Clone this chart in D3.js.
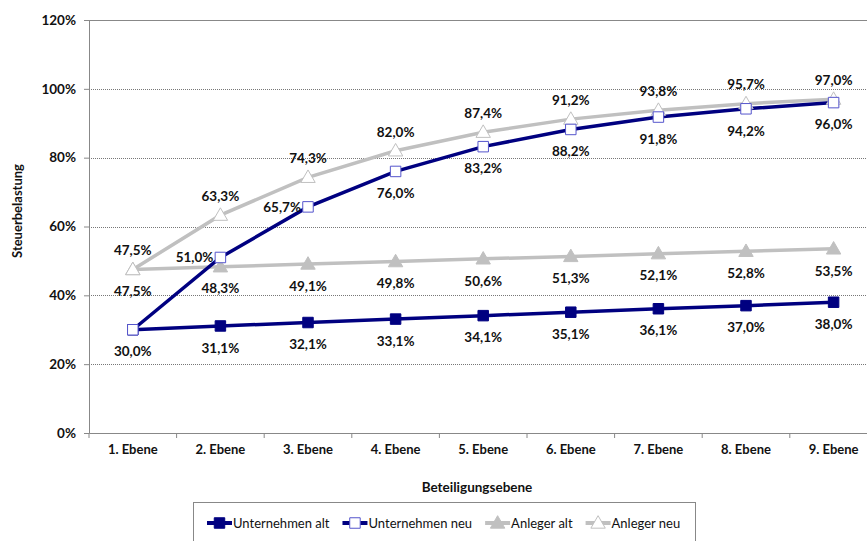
<!doctype html>
<html lang="de">
<head>
  <meta charset="utf-8">
  <title>Steuerbelastung</title>
  <script src="https://d3js.org/d3.v7.min.js"></script>
  <style>
    html, body { margin: 0; padding: 0; background: #fff; }
    svg { display: block; font-family: Lato, "Open Sans", sans-serif; }
    .grid line { stroke: #777; stroke-dasharray: 1,1; }
    .lbl { font-size: 13.5px; font-weight: bold; fill: #111; }
  </style>
</head>
<body>
  <div id="chart"></div>
  <script>
    const levels = ["1. Ebene","2. Ebene","3. Ebene","4. Ebene","5. Ebene","6. Ebene","7. Ebene","8. Ebene","9. Ebene"];
    const unternehmenAlt = [30.0, 31.1, 32.1, 33.1, 34.1, 35.1, 36.1, 37.0, 38.0];
    const unternehmenNeu = [30.0, 51.0, 65.7, 76.0, 83.2, 88.2, 91.8, 94.2, 96.0];
    const anlegerAlt = [47.5, 48.3, 49.1, 49.8, 50.6, 51.3, 52.1, 52.8, 53.5];
    const anlegerNeu = [47.5, 63.3, 74.3, 82.0, 87.4, 91.2, 93.8, 95.7, 97.0];
    const yTicks = [0, 20, 40, 60, 80, 100, 120];

    const series = [
      { name: "Unternehmen alt", values: unternehmenAlt, color: "#000080", shape: "square", fill: "#000080", stroke: "#000080" },
      { name: "Unternehmen neu", values: unternehmenNeu, color: "#000080", shape: "square", fill: "#fff", stroke: "#5555cc" },
      { name: "Anleger alt", values: anlegerAlt, color: "#c0c0c0", shape: "triangle", fill: "#c0c0c0", stroke: "#c0c0c0" },
      { name: "Anleger neu", values: anlegerNeu, color: "#c0c0c0", shape: "triangle", fill: "#fff", stroke: "#c0c0c0" }
    ];

    const width = 867, height = 541;
    const plotL = 89, plotT = 20, plotB = 433, step = 87.6;

    const svg = d3.select('#chart').append('svg')
      .attr('width', width).attr('height', height);

    const x = d3.scaleBand().domain(levels).range([plotL, plotL + step * levels.length]).padding(0);
    const y = d3.scaleLinear().domain([0, 120]).range([plotB, plotT]);
    const cx = d => x(d) + x.bandwidth() / 2;

    // gridlines
    svg.append('g').attr('class', 'grid')
      .selectAll('line').data(yTicks.filter(t => t > 0 && t < 120)).join('line')
      .attr('x1', plotL).attr('x2', width)
      .attr('y1', d => Math.round(y(d)) + 0.5).attr('y2', d => Math.round(y(d)) + 0.5);

    // top border
    svg.append('line').attr('x1', plotL).attr('x2', width)
      .attr('y1', plotT + 0.5).attr('y2', plotT + 0.5).attr('stroke', '#888');

    // y axis
    const yAxis = svg.append('g').attr('transform', `translate(${plotL},0)`)
      .call(d3.axisLeft(y).tickValues(yTicks).tickFormat(d => d + '%').tickSize(5).tickPadding(8));
    yAxis.select('.domain').attr('stroke', '#888');
    yAxis.selectAll('.tick line').attr('stroke', '#888');
    yAxis.selectAll('text').attr('font-size', 13.5).attr('font-weight', 'bold').attr('fill', '#111')
      .attr('font-family', 'Lato, sans-serif');

    // x axis
    const xAxis = svg.append('g').attr('transform', `translate(0,${plotB})`)
      .call(d3.axisBottom(x).tickSize(0).tickPadding(12));
    xAxis.select('.domain').attr('stroke', '#888');
    xAxis.selectAll('text').attr('font-size', 13).attr('font-weight', 'bold').attr('fill', '#111')
      .attr('font-family', 'Lato, sans-serif');
    xAxis.selectAll('.bnd').data(d3.range(levels.length + 1)).join('line')
      .attr('x1', i => plotL + i * x.step()).attr('x2', i => plotL + i * x.step())
      .attr('y1', 0).attr('y2', 5).attr('stroke', '#888');

    // axis titles
    svg.append('text').attr('class', 'lbl').attr('x', 477).attr('y', 492)
      .attr('text-anchor', 'middle').attr('font-size', 12).text('Beteiligungsebene');
    svg.append('text').attr('class', 'lbl')
      .attr('transform', 'translate(22,211) rotate(-90)')
      .attr('text-anchor', 'middle').style('font-size', '13px').text('Steuerbelastung');

    const line = d3.line().x((d, i) => cx(levels[i])).y(d => y(d));
    const sqr = d3.symbol().type(d3.symbolSquare).size(110);
    const tri = d3.symbol().type(d3.symbolTriangle).size(90);

    // grey series first, then navy on top
    const order = [2, 3, 0, 1];
    order.forEach(k => {
      const s = series[k];
      svg.append('path').datum(s.values)
        .attr('fill', 'none').attr('stroke', s.color).attr('stroke-width', 3.5)
        .attr('d', line);
    });
    order.forEach(k => {
      const s = series[k];
      svg.append('g').selectAll('path').data(s.values).join('path')
        .attr('transform', (d, i) => `translate(${cx(levels[i])},${y(d) + (s.shape === 'triangle' ? 1 : 0)})`)
        .attr('d', s.shape === 'square' ? sqr : tri)
        .attr('fill', s.fill).attr('stroke', s.stroke).attr('stroke-width', 1);
    });

    // data labels
    const fmt = v => v.toFixed(1).replace('.', ',') + '%';
    function place(k, i) {
      if (k === 0 || k === 2) return { dx: 0, dy: 22, anchor: 'middle' };
      if (k === 3) return { dx: 0, dy: -19, anchor: 'middle' };
      if (i === 0) return null;
      if (i <= 2) return { dx: -7, dy: 0, anchor: 'end' };
      return { dx: 0, dy: 22, anchor: 'middle' };
    }
    series.forEach((s, k) => {
      s.values.forEach((v, i) => {
        const p = place(k, i);
        if (!p) return;
        svg.append('text').attr('class', 'lbl')
          .attr('x', cx(levels[i]) + p.dx).attr('y', y(v) + p.dy)
          .attr('dy', '0.35em').attr('text-anchor', p.anchor).text(fmt(v));
      });
    });

    // legend
    const lg = svg.append('g');
    lg.append('rect').attr('x', 193.5).attr('y', 502.5).attr('width', 502).attr('height', 50)
      .attr('fill', '#fff').attr('stroke', '#888');
    let lx = 207;
    series.forEach(s => {
      const g = lg.append('g').attr('transform', `translate(${lx},523)`);
      g.append('line').attr('x1', 0).attr('x2', 25).attr('stroke', s.color).attr('stroke-width', 4);
      g.append('path').attr('transform', `translate(12.5,${s.shape === 'triangle' ? 1 : 0})`)
        .attr('d', s.shape === 'square' ? sqr : tri)
        .attr('fill', s.fill).attr('stroke', s.stroke);
      const t = g.append('text').attr('x', 26).attr('dy', '0.35em')
        .attr('font-size', 13).attr('fill', '#111').text(s.name);
      lx += 26 + t.node().getComputedTextLength() + 13;
    });
  </script>
</body>
</html>
